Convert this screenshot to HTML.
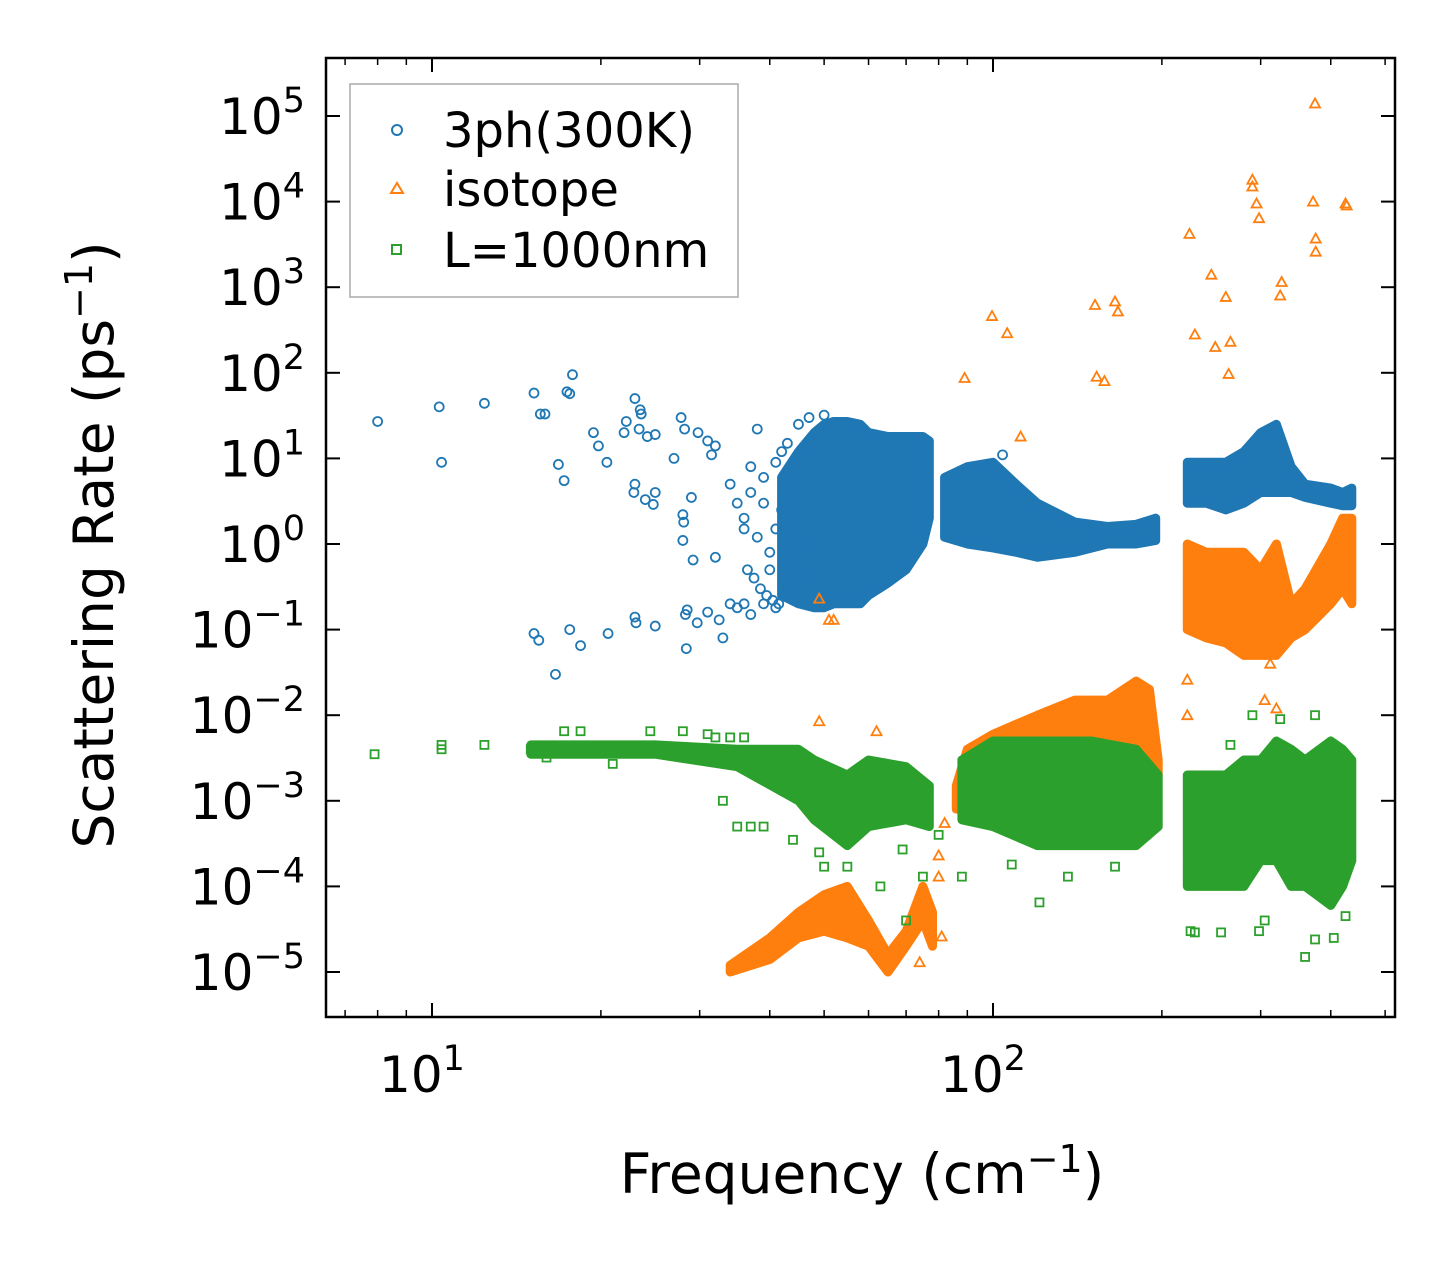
<!DOCTYPE html>
<html><head><meta charset="utf-8"><style>
body{margin:0;background:#fff;}
svg{display:block;font-family:"DejaVu Sans","Liberation Sans",sans-serif;}
</style></head><body>
<svg id="chart" width="1455" height="1265" viewBox="0 0 1455 1265" xmlns="http://www.w3.org/2000/svg">
<rect width="1455" height="1265" fill="#fff"/>
<defs><clipPath id="pc"><rect x="326" y="58" width="1069" height="959"/></clipPath></defs>
<g id="plot" clip-path="url(#pc)"></g>
<g id="axes"></g>
<rect x="326" y="58" width="1069" height="959" fill="none" stroke="#000" stroke-width="2.5"/>
<text x="862" y="1193" font-size="55" text-anchor="middle">Frequency (cm<tspan dy="-21" font-size="38">−1</tspan><tspan dy="21">)</tspan></text>
<text transform="translate(113,545) rotate(-90)" font-size="55" text-anchor="middle">Scattering Rate (ps<tspan dy="-21" font-size="38">−1</tspan><tspan dy="21">)</tspan></text>
<g>
<rect x="350" y="84" width="388" height="213" fill="#fff" stroke="#aaa" stroke-width="1.5"/>
<circle cx="397" cy="130" r="5" fill="none" stroke="#1f77b4" stroke-width="2"/>
<text x="443" y="147" font-size="48">3ph(300K)</text>
<polygon points="397,183 403,193 391,193" fill="none" stroke="#ff7f0e" stroke-width="2"/>
<text x="443" y="206" font-size="48">isotope</text>
<rect x="392" y="245" width="9" height="9" fill="none" stroke="#2ca02c" stroke-width="2"/>
<text x="443" y="267" font-size="48">L=1000nm</text>
</g>
</svg>
<script>
// ---- data ----
const xTickVals=[10,100];
const xTickLabels=["1","2"];
const yTickVals=[1e5,1e4,1e3,1e2,1e1,1e0,1e-1,1e-2,1e-3,1e-4,1e-5];
const yTickLabels=["5","4","3","2","1","0","−1","−2","−3","−4","−5"];
// dense bands (freq, low, high)
const blueBandF1=[42,45,48,50,52,55,58,60,65,70,75,77];
const blueBandLo1=[0.25,0.2,0.18,0.18,0.2,0.2,0.2,0.25,0.35,0.5,1,2];
const blueBandHi1=[6,12,20,25,27,27,25,20,18,18,18,16];
const blueBandF2=[82,90,100,110,120,140,160,180,195];
const blueBandLo2=[1.2,1,0.9,0.8,0.7,0.8,1,1,1.1];
const blueBandHi2=[6,8,9,5,3,1.8,1.6,1.7,2];
const blueBandF3=[222,240,260,280,300,320,340,360,400,420,436];
const blueBandLo3=[3,3,2.5,3,4,4,4,3.5,3,2.8,2.8];
const blueBandHi3=[9,9,9,12,20,25,8,5,4.5,4,4.5];
const orBandF1=[34,40,45,50,55,60,65,70,75,78];
const orBandLo1=[1e-5,1.4e-5,2.5e-5,3e-5,2.5e-5,2e-5,1e-5,2e-5,4e-5,2e-5];
const orBandHi1=[1.2e-5,2.5e-5,5e-5,8e-5,1e-4,4e-5,1.6e-5,3e-5,1e-4,5e-5];
const orBandF2=[86,90,100,120,140,160,180,190,197];
const orBandLo2=[8e-4,2e-3,3e-3,4e-3,4e-3,4e-3,5e-3,3e-3,2e-3];
const orBandHi2=[1.5e-3,4e-3,6e-3,1e-2,1.5e-2,1.5e-2,2.5e-2,2e-2,3e-3];
const orBandF3=[222,240,260,280,300,320,340,360,400,420,436];
const orBandLo3=[0.1,0.08,0.07,0.05,0.05,0.05,0.08,0.1,0.2,0.3,0.2];
const orBandHi3=[1,0.8,0.8,0.8,0.5,1,0.2,0.3,1,2,2];
const grBandF1=[15,25,35,45,48,55,60,70,77];
const grBandLo1=[3.5e-3,3.5e-3,2.5e-3,1e-3,6e-4,3e-4,5e-4,6e-4,5e-4];
const grBandHi1=[4.5e-3,4.5e-3,4e-3,4e-3,3e-3,2e-3,3e-3,2.5e-3,1.5e-3];
const grBandF2=[88,100,120,150,180,197];
const grBandLo2=[6e-4,5e-4,3e-4,3e-4,3e-4,5e-4];
const grBandHi2=[3e-3,5e-3,5e-3,5e-3,4e-3,2e-3];
const grBandF3=[222,240,260,280,300,320,340,360,400,420,436];
const grBandLo3=[1e-4,1e-4,1e-4,1e-4,2e-4,2e-4,1e-4,1e-4,6e-5,1e-4,2e-4];
const grBandHi3=[2e-3,2e-3,2e-3,3e-3,3e-3,5e-3,4e-3,3e-3,5e-3,4e-3,3e-3];
// scattered points
const bluePtsF=[8.0,10.3,10.4,12.4,15.2,15.6,15.9,16.8,17.2,17.4,17.8,17.6,15.2,15.5,16.6,17.6,18.4,19.4,19.8,20.5,20.6,22,22.2,23,23.5,23.6,23.4,24.2,25,23,22.9,24,25,24.8,23,23.1,25,27,27.8,28.2,28,28.1,28,29,29.2,32,28.5,28.3,28.4,29.7,31,32.5,34,33,36,29.8,31,31.5,32,34,35,36,37,38,39,40,41,42,43,44,45,46,47,48,50,104,36.5,37.5,38.5,39.5,40.5,41.5,36,38,40,42,37,39,41,43,35,37,39,41];
const bluePtsV=[27,40,9,44,58,33,33,8.5,5.5,60,95,57,0.09,0.075,0.03,0.1,0.065,20,14,9,0.09,20,27,50,37,33,22,18,19,5,4,3.3,4,2.9,0.14,0.12,0.11,10,30,22,2.2,1.8,1.1,3.5,0.65,0.7,0.17,0.15,0.06,0.12,0.16,0.13,0.2,0.08,0.2,20,16,11,14,5,3,2,8,22,3,0.5,1.5,12,0.3,6,25,1,30,0.4,32,11,0.5,0.4,0.3,0.25,0.22,0.2,1.5,1.2,0.8,2.5,4,6,9,15,0.18,0.15,0.2,0.18];
const orPtsF=[49,51,52,49,62,81,74,80,80,82,89,99.6,106,112,152,153,158,165,167,224,229,245,260,249,265,263,290,290,295,298,325,327,375,372,376,376,425,427,222,222,305,320,312];
const orPtsV=[0.23,0.13,0.13,0.0085,0.0065,2.6e-5,1.3e-5,2.3e-4,1.3e-4,5.5e-4,87,460,290,18,620,90,80,680,520,4200,280,1400,770,200,230,97,18000,15000,9500,6400,800,1150,140000,10000,3700,2600,9500,9000,0.026,0.01,0.015,0.012,0.04];
const grPtsF=[7.9,10.4,10.4,12.4,15,16,17.2,18.4,21,24.5,28,31,32,34,36,33,35,37,39,44,49,50,55,63,69,70,80,75,88,108,121,136,165,225,229,255,298,305,360,405,375,425,290,325,375,265];
const grPtsV=[3.5e-3,4e-3,4.5e-3,4.5e-3,4e-3,3.2e-3,6.5e-3,6.5e-3,2.7e-3,6.5e-3,6.5e-3,6e-3,5.5e-3,5.5e-3,5.5e-3,1e-3,5e-4,5e-4,5e-4,3.5e-4,2.5e-4,1.7e-4,1.7e-4,1e-4,2.7e-4,4e-5,4e-4,1.3e-4,1.3e-4,1.8e-4,6.5e-5,1.3e-4,1.7e-4,3e-5,2.9e-5,2.9e-5,3e-5,4e-5,1.5e-5,2.5e-5,2.4e-5,4.5e-5,0.01,0.009,0.01,4.5e-3];

// ---- axes ----
const X0=432, XD=561, Y0=116, YD=85.6;
function xs(f){return X0+(Math.log10(f)-1)*XD;}
function ys(v){return Y0+(5-Math.log10(v))*YD;}
const NS="http://www.w3.org/2000/svg";
const plot=document.getElementById('plot'), axes=document.getElementById('axes');
function mk(tag,attrs,parent){const e=document.createElementNS(NS,tag);for(const k in attrs)e.setAttribute(k,attrs[k]);parent.appendChild(e);return e;}

function band(F,L,H,color,name){
  const pts=[];
  for(let i=0;i<F.length;i++)pts.push(xs(F[i]).toFixed(1)+','+ys(H[i]).toFixed(1));
  for(let i=F.length-1;i>=0;i--)pts.push(xs(F[i]).toFixed(1)+','+ys(L[i]).toFixed(1));
  const p=mk('polygon',{points:pts.join(' '),fill:color,stroke:color,'stroke-width':9,'stroke-linejoin':'round'},plot);
  
  
}
band(blueBandF1,blueBandLo1,blueBandHi1,'#1f77b4','3ph-cloud-low');
band(blueBandF2,blueBandLo2,blueBandHi2,'#1f77b4','3ph-cloud-mid');
band(blueBandF3,blueBandLo3,blueBandHi3,'#1f77b4','3ph-cloud-high');
band(orBandF1,orBandLo1,orBandHi1,'#ff7f0e','isotope-cloud-low');
band(orBandF2,orBandLo2,orBandHi2,'#ff7f0e','isotope-cloud-mid');
band(orBandF3,orBandLo3,orBandHi3,'#ff7f0e','isotope-cloud-high');
band(grBandF1,grBandLo1,grBandHi1,'#2ca02c','boundary-cloud-low');
band(grBandF2,grBandLo2,grBandHi2,'#2ca02c','boundary-cloud-mid');
band(grBandF3,grBandLo3,grBandHi3,'#2ca02c','boundary-cloud-high');

for(let i=0;i<bluePtsF.length;i++){
  const c=mk('circle',{cx:xs(bluePtsF[i]),cy:ys(bluePtsV[i]),r:4.5,fill:'none',stroke:'#1f77b4','stroke-width':1.8},plot);
  
  
}
for(let i=0;i<orPtsF.length;i++){
  const x=xs(orPtsF[i]),y=ys(orPtsV[i]);
  const t=mk('polygon',{points:`${x},${y-5} ${x+5},${y+4} ${x-5},${y+4}`,fill:'none',stroke:'#ff7f0e','stroke-width':1.8},plot);
  
  
}
for(let i=0;i<grPtsF.length;i++){
  const r=mk('rect',{x:xs(grPtsF[i])-4,y:ys(grPtsV[i])-4,width:8,height:8,fill:'none',stroke:'#2ca02c','stroke-width':1.8},plot);
  
  
}

// ticks
const L=326,R=1395,T=58,B=1017;
for(let i=0;i<yTickVals.length;i++){
  const y=ys(yTickVals[i]);
  mk('line',{x1:L,x2:L+14,y1:y,y2:y,stroke:'#000','stroke-width':2},axes);
  mk('line',{x1:R,x2:R-14,y1:y,y2:y,stroke:'#000','stroke-width':2},axes);
  const t=mk('text',{x:305,y:y+18,'font-size':50,'text-anchor':'end'},axes);
  
  
  t.innerHTML='10<tspan dy="-22" font-size="35">'+yTickLabels[i]+'</tspan>';
}
for(let d=6;d<=500;d++){
  let dec=Math.pow(10,Math.floor(Math.log10(d)+1e-9));
  if(d%dec!==0)continue;
  const x=xs(d); if(x<L||x>R)continue;
  const major=(d===dec);
  const len=major?14:7;
  mk('line',{x1:x,x2:x,y1:B,y2:B-len,stroke:'#000','stroke-width':major?2:1.5},axes);
  mk('line',{x1:x,x2:x,y1:T,y2:T+len,stroke:'#000','stroke-width':major?2:1.5},axes);
}
for(let i=0;i<xTickVals.length;i++){
  const t=mk('text',{x:xs(xTickVals[i])-10,y:1092,'font-size':50,'text-anchor':'middle'},axes);
  
  
  t.innerHTML='10<tspan dy="-22" font-size="35">'+xTickLabels[i]+'</tspan>';
}
</script>
</body></html>
